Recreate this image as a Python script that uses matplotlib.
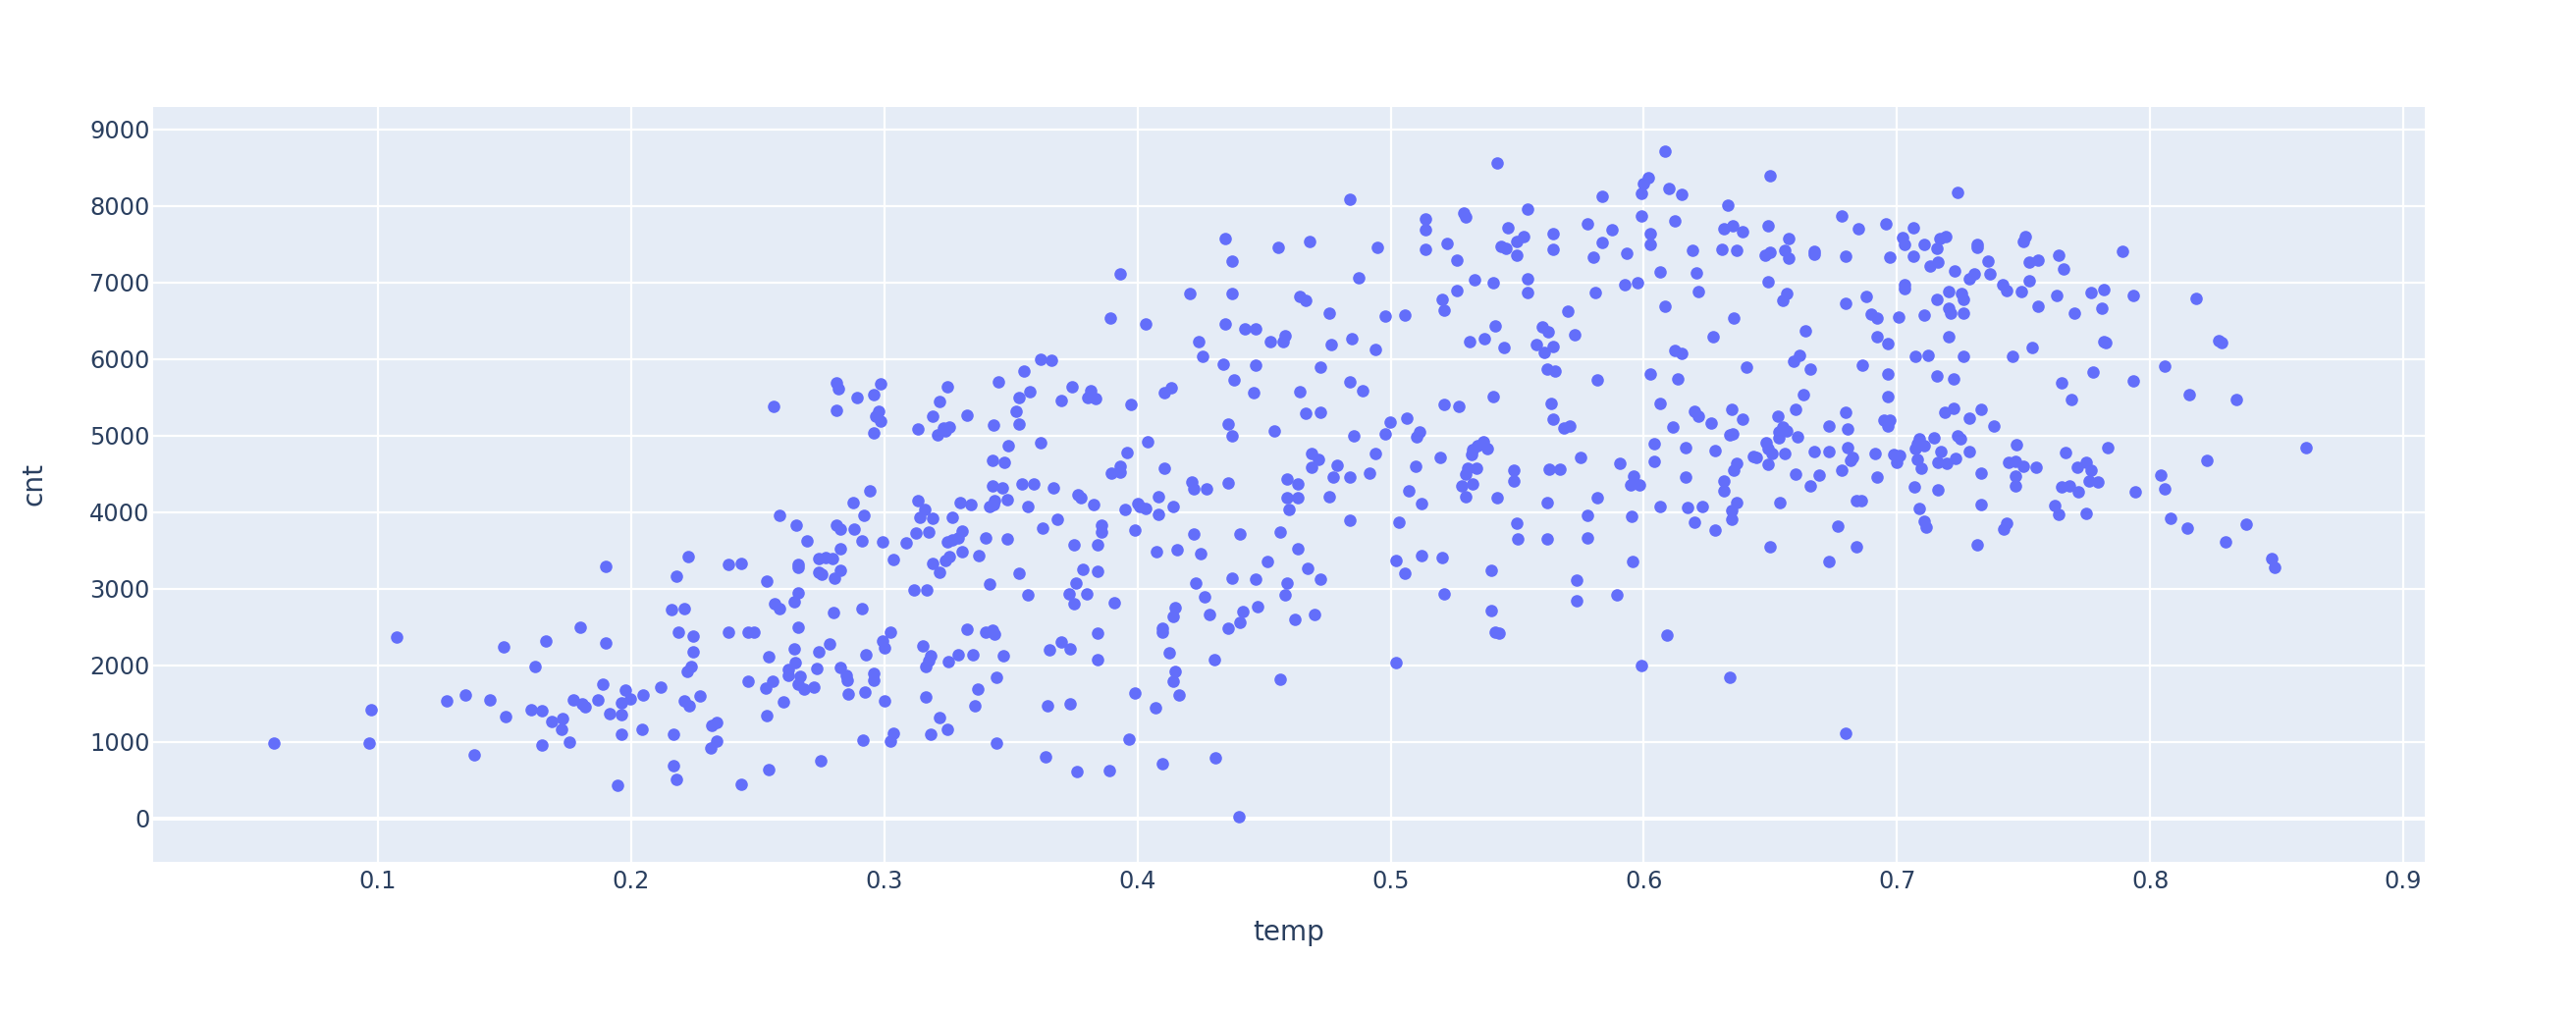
#!/usr/bin/env python3

import numpy as np
import matplotlib
matplotlib.use("Agg")
import matplotlib.pyplot as plt

# values, left part to right part
temp_a = [.059,.0964,.0972,.1074,.1272,.1346,.1441,.1381,.1498,.1506,.1622,.1605,.1648,.1648,.1663,.1688,.173,.1724,
          .1756,.1771,.1806,.1819,.1797,.1867,.1888,.1898,.1898,.1917,.1946,.1961,.1961,.1961,.1979,.1997]
cnt_a = [983,987,1423,2371,1534,1606,1542,825,2238,1325,1978,1423,1406,962,2311,1265,1307,1162,
         1000,1542,1500,1453,2494,1551,1747,3292,2295,1363,431,1504,1350,1102,1679,1559]

temp_b = [.2048,.2043,.2116,.2161,.2211,.2186,.2244,.2244,.2238,.2221,.2211,.2229,.2272,.2168,.2169,.2178,.2337,.2319,
          .2337,.2315,.2436,.2386,.2461,.2487,.2461,.2545,.2533,.256,.2536,.2545,.2568,.2586,.2643,.2659,.2659,.2643,
          .2647,.262,.262,.2667,.2659,.2684,.272,.2601,.2743,.2732,.2785,.2801,.291,.2827,.2848,.2853,.2859,.275,.2914,
          .2926,.2959,.2957,.2923,.2994,.3001,.3001,.3026,.3035,.3026,.3151,.3183,.3174,.3165,.3253,.3293,.3351,.3165,
          .3218,.325,.3183,.3325,.34,.3426,.3436,.347,.3444,.3368,.3359,.3442,.3635,.3644,.3733,.3652,.37,.3733,.3762,
          .3566,.373,.3749,.3117,.3166]
cnt_b = [1607,1167,1714,2730,2743,2436,2376,2171,1987,1919,1535,1475,1603,1099,685,510,1253,1210,
         1009,920,441,2436,2427,2427,1791,2115,1697,1795,1347,634,2807,2739,2833,2939,2500,2213,
         2030,1949,1863,1851,1757,1688,1718,1526,2179,1957,2278,2692,2734,1974,1872,1808,1624,757,1018,
         2132,1893,1804,1650,2312,2226,1535,2427,1112,1009,2256,2120,2055,1979,2051,2132,2137,1590,
         1321,1163,1099,2470,2427,2457,2401,2124,1838,1688,1475,988,800,1466,1500,2196,2299,2213,612,
         2918,2935,2798,2986,2986]

temp_c = [.2561,.281,.2818,.2985,.2893,.296,.281,.2977,.2966,.2985,.296,.3134,.3192,.3217,.325,.3325,.3235,.3258,.3243,
          .3209,.345,.3433,.3551,.3617,.3659,.3534,.3575,.3522,.3534,.37,.3742,.3488,.3617,.3426,.3475,.3426,.3467,
          .3542,.3592,.3667,.3766,.3775,.3484,.3436,.3433,.3417,.3566,.3626,.3684,.3751,.3484,.34,.3375,.3534,.3417,
          .3784,.3757,.2943,.2876,.2919,.2586,.2652,.2693,.281,.2828,.288,.291,.2994,.2827,.2743,.2769,.2795,.2659,
          .2659,.2743,.2752,.2826,.2803,.2536,.2436,.2386,.2227,.2178,.3034,.3088,.3126,.3175,.3134,.3159,.3142,.3192,
          .3267,.3301,.3342,.3308,.3292,.3268,.325,.3308,.3258,.3243,.3192,.3217]
cnt_c = [5376,5687,5611,5670,5495,5534,5325,5320,5256,5192,5034,5090,5256,5448,5632,5269,5098,5111,5056,
         5004,5696,5137,5845,5991,5986,5500,5568,5316,5145,5461,5632,4863,4910,4671,4650,4342,4321,
         4372,4364,4321,4223,4184,4167,4150,4099,4073,4069,3787,3911,3578,3651,3668,3429,3198,3061,
         3253,3074,4274,4120,3958,3958,3834,3625,3830,3783,3779,3621,3617,3527,3394,3407,3390,3322,
         3275,3215,3190,3245,3134,3096,3335,3313,3424,3168,3377,3599,3732,3740,4155,4031,3937,3924,
         3928,4129,4099,3753,3668,3638,3617,3488,3424,3369,3330,3215]

temp_d = [.3816,.3803,.3834,.3974,.3892,.4032,.3933,.4107,.4133,.4208,.424,.4257,.4338,.4348,.4348,.4374,.4374,.4423,
          .4466,.4466,.4524,.4556,.4582,.4574,.4681,.464,.4664,.4756,.4764,.4848,.4722,.484,.4872,.4947,.4939,.498,
          .5055,.4382,.4457,.464,.484,.4889,.4664,.4722,.4997,.5063,.5138,.5138,.5138,.5222,.5287,.5296,.5263,.533,
          .5405,.5263,.5205,.5213,.5413,.5371,.5313,.5446,.5213,.5271,.5405,.5422,.5463,.5438,.5455,.5497,.5497]
cnt_d = [5587,5501,5480,5407,6535,6458,7107,5557,5629,6851,6231,6039,5933,6453,7568,7278,6851,6394,
         6389,5915,6231,7457,6308,6231,7529,6821,6769,6603,6193,6266,5890,8089,7056,7457,6129,6564,
         6569,5728,5557,5570,5698,5582,5296,5309,5181,5224,7833,7687,7431,7508,7905,7850,7286,7030,
         7000,6889,6778,6637,6436,6270,6227,6150,5407,5382,5510,8554,7717,7465,7440,7534,7354]

temp_e = [.404,.3959,.3898,.3933,.3933,.4107,.3825,.395,.4,.4008,.4034,.4083,.4083,.4141,.3858,.3858,.3991,.3841,.4215,
          .4223,.4274,.4357,.4357,.4374,.4539,.4855,.498,.4223,.4406,.4565,.4074,.4157,.4249,.3841,.4632,.4515,.4673,
          .4722,.4374,.4466,.459,.4232,.4266,.4582,.38,.3908,.4148,.4141,.4283,.4415,.4473,.4406,.4357,.4623,.4698,
          .4099,.4099,.3844,.4124,.3841,.4303,.4148,.4141,.3991,.4165,.4072,.4565,.4689,.4715,.4689,.4789,.459,.4632,
          .4773,.484,.4915,.4939,.459,.4632,.4597,.4756,.484,.5032,.5113,.5104,.5196,.5097,.5072,.5121,.5322,.5365,
          .5342,.532,.538,.5306,.5339,.5297,.5322,.5281,.5297,.5422,.5488,.5488,.5497,.5503,.5121,.5205,.5022,.5055,
          .5213,.5396,.5396,.5413,.5429,.5022,.3966,.389,.4099,.4307,.44]
cnt_e = [4918,4773,4512,4594,4521,4572,4098,4038,4115,4073,4047,4205,3974,4068,3825,3744,3765,3573,4389,
         4307,4303,4380,5153,4999,5063,4991,5025,3710,3718,3744,3488,3513,3458,3227,3522,3355,3270,
         3120,3142,3129,3078,3073,2898,2915,2937,2813,2749,2634,2663,2706,2766,2565,2480,2599,2663,
         2484,2429,2420,2164,2078,2078,1916,1797,1639,1609,1451,1822,4760,4687,4581,4611,4431,4371,
         4461,4457,4512,4764,4184,4184,4038,4196,3898,3868,5046,4982,4717,4598,4278,4107,4811,4918,
         4867,4747,4824,4577,4572,4491,4363,4337,4196,4184,4542,4401,3859,3646,3432,3411,3372,3206,
         2928,3240,2715,2429,2416,2036,1030,624,710,795,26]

temp_f = [.5542,.5527,.5542,.5542,.5641,.5641,.5834,.5776,.5875,.5834,.58,.5933,.5992,.6,.6017,.5992,.6025,.6025,.6084,
          .6099,.6148,.6124,.6066,.6191,.6208,.6215,.6083,.5925,.5974,.5808,.5701,.56,.5624,.5725,.5575,.5641,.5608,
          .5617,.565,.5817,.5633,.5641,.6333,.6315,.635,.6391,.6307,.6365,.6499,.649,.6481,.65,.6557,.6574,.6574,
          .6672,.6672,.649,.6565,.6548,.6357,.6273,.6124,.615,.6025,.6133,.6406,.664,.6614,.659,.6657,.6631,.6599,
          .6066,.6199,.6215,.6348,.6391,.6531,.678,.6848,.6956,.6797,.6973,.688,.6797,.6898,.6922,.7007,.6922,.6964,
          .6864,.6964,.6964,.6797,.6947,.6973,.7023,.7031,.7064,.7107,.7171,.7191,.7156,.7064,.713,.7163,.7229,.7238,
          .7031,.7031,.7205,.7156,.7255,.7262,.7205,.7214,.7262,.7106,.7205,.7072,.7122,.7262,.7156,.7222,.7222,.7189,
          .7284]
cnt_f = [7961,7594,7051,6872,7636,7427,8119,7764,7692,7521,7333,7384,8161,8290,8362,7871,7636,7491,8712,
         8225,8153,7798,7132,7414,7128,6885,6688,6974,6996,6868,6624,6424,6355,6313,6193,6167,6090,
         5873,5843,5728,5424,5215,8003,7696,7734,7662,7436,7423,8392,7734,7359,7393,7418,7568,7320,
         7410,7367,7004,6855,6765,6530,6295,6112,6069,5804,5740,5894,6368,6052,5967,5868,5535,5343,
         5424,5313,5258,5343,5215,5254,7863,7696,7760,7337,7333,6821,6731,6590,6535,6543,6295,6201,
         5920,5809,5514,5305,5202,5202,7585,7500,7709,7495,7572,7602,7440,7346,7214,7260,7149,8174,
         6966,6915,6880,6778,6859,6774,6667,6594,6594,6569,6291,6035,6043,6039,5783,5740,5360,5300,
         5228]

temp_g = [.5708,.5684,.6116,.6266,.6341,.6353,.575,.5625,.5668,.5907,.6041,.6041,.6166,.6283,.5959,.5948,.5982,.6166,
          .5617,.5817,.5776,.595,.6066,.6174,.6232,.6199,.6283,.5617,.5776,.5956,.5733,.5733,.5892,.6092,.5992,.6338,
          .6365,.6357,.6316,.6316,.6365,.6348,.6348,.6432,.6444,.6482,.649,.6507,.649,.6557,.6533,.6533,.6548,.6565,
          .6608,.6599,.6673,.6731,.6657,.6691,.6539,.6499,.6731,.6806,.6806,.6824,.6815,.6782,.6915,.6922,.6841,.6859,
          .6765,.684,.6731,.6988,.701,.6997,.6965,.7068,.7089,.7106,.7115,.7089,.7107,.7072,.7081,.7081,.7096,.7148,
          .7173,.7163,.7197,.7231,.7163,.7238,.7249,.6797]
cnt_g = [5119,5097,5110,5161,5003,5016,4717,4555,4564,4640,4888,4658,4841,4798,4470,4354,4354,4453,
         4124,4192,3957,3944,4073,4056,4073,3872,3769,3646,3663,3351,3116,2843,2915,2394,2002,1844,
         4640,4551,4401,4273,4124,4017,3906,4730,4713,4901,4833,4760,4628,4760,4974,5046,5110,5055,
         4982,4495,4790,4786,4342,4487,4128,3547,5123,5085,4837,4713,4675,4551,4760,4461,4154,4149,
         3821,3543,3351,4756,4734,4653,5119,4333,4043,3880,3804,4961,4867,4833,4897,4683,4576,4969,
         4794,4649,4632,4696,4295,4991,4961,1115]

temp_h = [.7316,.7316,.7358,.7367,.7307,.7284,.7507,.7499,.7524,.7559,.764,.7657,.7524,.7416,.7432,.7492,.7632,.7559,
          .7765,.7816,.7808,.7699,.7932,.789,.8181,.8272,.8283,.7816,.7826,.7532,.7458,.8057,.7774,.7649,.7932,.769,
          .8156,.8339,.7333,.7383]
cnt_h = [7491,7461,7273,7115,7111,7043,7598,7534,7260,7286,7350,7175,7017,6970,6893,6880,6829,6688,
         6863,6906,6663,6594,6825,7406,6786,6244,6210,6231,6214,6146,6035,5907,5826,5689,5715,5467,
         5531,5467,5339,5121]

temp_i = [.7284,.7473,.7665,.7832,.7333,.7439,.7467,.75,.755,.7467,.7467,.7333,.7434,.7423,.7316,.7714,.7748,.7765,
          .7757,.7792,.7649,.7683,.7715,.7941,.7623,.764,.7748,.804,.8057,.8223,.8081,.8148,.8381,.8299,.8482,.849,.8614]
cnt_i = [4790,4875,4781,4845,4508,4645,4662,4594,4585,4465,4342,4098,3851,3778,3573,4589,4653,4542,
         4401,4393,4329,4337,4269,4260,4090,3974,3983,4478,4303,4670,3915,3787,3846,3607,3394,3283,4841]

temp = np.array(temp_a + temp_b + temp_c + temp_d + temp_e + temp_f + temp_g + temp_h + temp_i)
cnt = np.array(cnt_a + cnt_b + cnt_c + cnt_d + cnt_e + cnt_f + cnt_g + cnt_h + cnt_i)

x_ticks = [0.1, 0.2, 0.3, 0.4, 0.5, 0.6, 0.7, 0.8, 0.9]
y_ticks = [0, 1000, 2000, 3000, 4000, 5000, 6000, 7000, 8000, 9000]

text_col = "#2a3f5f"

fig = plt.figure(figsize=(13.12, 5.16), dpi=200)
ax = fig.add_axes([156 / 2624, 1 - 877.7 / 1032, 2314 / 2624, 768.7 / 1032])
ax.set_facecolor("#E5ECF6")

ax.scatter(temp, cnt, s=20.5, color="#636EFA", linewidths=0, zorder=3)

ax.set_xlim(0.0112, 0.9085)
ax.set_ylim(-564, 9291)
ax.set_xticks(x_ticks)
ax.set_xticklabels([str(v) for v in x_ticks])
ax.set_yticks(y_ticks)
ax.grid(True, color="white", linewidth=0.8, zorder=1)
ax.axhline(0, color="white", linewidth=1.44, zorder=2)
ax.set_axisbelow(True)
for s in ax.spines.values():
    s.set_visible(False)
ax.tick_params(length=0, labelsize=8.64, labelcolor=text_col)
ax.tick_params(axis="x", pad=3.0)
ax.tick_params(axis="y", pad=1.2)

ax.set_xlabel("temp", fontsize=10.08, color=text_col)
ax.set_ylabel("cnt", fontsize=10.08, color=text_col)
ax.xaxis.set_label_coords(0.5, -0.094)
ax.xaxis.label.set_va("center")
ax.yaxis.set_label_coords(-0.0527, 0.5)
ax.yaxis.label.set_va("center")

fig.savefig("out.png", dpi=200, facecolor="white")
